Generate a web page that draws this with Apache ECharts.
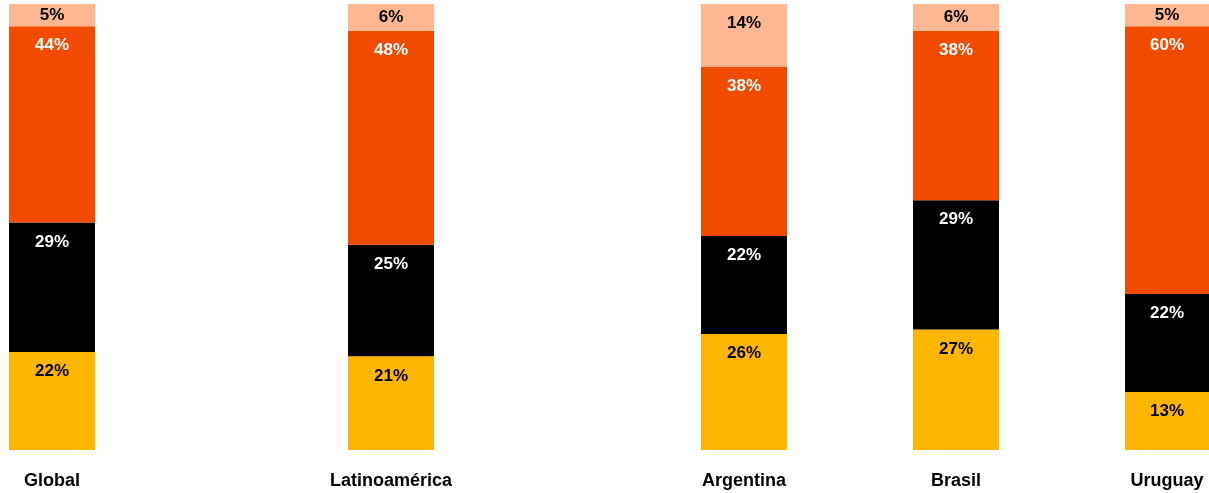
<!DOCTYPE html>
<html>
<head>
<meta charset="utf-8">
<script src="https://cdn.jsdelivr.net/npm/echarts@6/dist/echarts.min.js"></script>
<style>
  html, body { margin: 0; padding: 0; background: #fff; }
  #chart { width: 1209px; height: 493px; }
</style>
</head>
<body>
<div id="chart"></div>
<script>
// regions, one bar each
const regions = ['Global', 'Latinoamérica', 'Argentina', 'Brasil', 'Uruguay'];

// stacked segments, bottom to top (percent)
const yellowValues = [22, 21, 26, 27, 13];
const blackValues = [29, 25, 22, 29, 22];
const orangeValues = [44, 48, 38, 38, 60];
const peachValues = [5, 6, 14, 6, 5];

// layout: left edge of each bar's grid (px)
const gridLefts = [9, 348, 701, 913, 1125];
const barWidthPx = 86;

const segments = [
  { name: 'yellow', values: yellowValues, color: '#FFB600', text: '#000' },
  { name: 'black', values: blackValues, color: '#000000', text: '#fff' },
  { name: 'orange', values: orangeValues, color: '#F04B00', text: '#fff' },
  { name: 'peach', values: peachValues, color: '#FFB791', text: '#000' }
];

const fontFamily = '"Liberation Sans", Arial, sans-serif';

const grids = [], xAxes = [], yAxes = [], series = [];

regions.forEach((region, i) => {
  grids.push({ left: gridLefts[i], width: barWidthPx, top: 4, bottom: 43 });
  xAxes.push({
    type: 'category',
    gridIndex: i,
    data: [region],
    axisLine: { show: false },
    axisTick: { show: false },
    axisLabel: {
      margin: 22,
      color: '#000',
      fontFamily: fontFamily,
      fontWeight: 'bold',
      fontSize: 18
    }
  });
  yAxes.push({
    type: 'value',
    gridIndex: i,
    min: 0,
    max: 100,
    show: false
  });
  segments.forEach(seg => {
    const v = seg.values[i];
    // thin segments get their label centred, others near the top
    const small = v < 8;
    series.push({
      name: seg.name,
      type: 'bar',
      xAxisIndex: i,
      yAxisIndex: i,
      stack: 'total' + i,
      barWidth: '100%',
      data: [v],
      itemStyle: { color: seg.color },
      label: {
        show: true,
        position: small ? 'inside' : 'insideTop',
        distance: 11,
        formatter: '{c}%',
        color: seg.text,
        fontFamily: fontFamily,
        fontWeight: 'bold',
        fontSize: 17
      },
      silent: true
    });
  });
});

const chart = echarts.init(document.getElementById('chart'));
chart.setOption({
  animation: false,
  grid: grids,
  xAxis: xAxes,
  yAxis: yAxes,
  series: series
});
</script>
</body>
</html>
